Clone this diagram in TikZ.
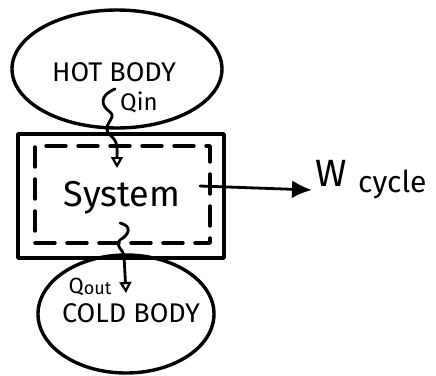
\documentclass[tikz,border=0pt]{standalone}
\usepackage{fontspec}
\setmainfont{Fira Sans}
\usetikzlibrary{shapes.geometric,arrows.meta}
\begin{document}
\begin{tikzpicture}[x=1pt,y=-1pt,
  ink/.style={line width=3.4pt,line cap=round,line join=round},
  bodyshape/.style={ink,draw,ellipse,inner sep=0pt},
  sysbox/.style={ink,draw,rectangle,inner sep=0pt},
  dashbox/.style={ink,draw,rectangle,inner sep=0pt,dash pattern=on 20pt off 12pt},
  heat/.style={ink,line width=2.8pt,-{Triangle[open,length=11pt,width=12pt,line width=2.2pt]}},
  work/.style={ink,line width=2.8pt,-{Latex[length=20pt,width=18pt]}},
  lbl/.style={inner sep=0pt}
]
\useasboundingbox (0,0) rectangle (436,375);
% bodies
\node[bodyshape,minimum width=210pt,minimum height=118pt] (hot) at (117,69) {};
\node[lbl,font=\fontsize{27pt}{27pt}\selectfont] (hottxt) at (114,72) {HOT BODY};
\node[bodyshape,minimum width=176pt,minimum height=118pt] (cold) at (126,314) {};
\node[lbl,font=\fontsize{27pt}{27pt}\selectfont] (coldtxt) at (131,313) {COLD BODY};
% system
\node[sysbox,minimum width=206pt,minimum height=124pt] (sys) at (121,196) {};
\node[dashbox,minimum width=175pt,minimum height=97pt] (sysin) at (122.5,194.5) {};
\node[lbl,font=\fontsize{36pt}{36pt}\selectfont] (systxt) at (122,198) {System};
% heat in
\coordinate (qinA) at (115,89);
\coordinate (qinB) at (117,168);
\node[lbl,font=\fontsize{24pt}{24pt}\selectfont,anchor=west] (qin) at (120,102) {Qin};
\draw[heat] (qinA) .. controls (100,95) and (100,105) .. (110,112)
  .. controls (118,118) and (100,125) .. (110,135)
  .. controls (119,142) and (117,150) .. (qinB);
% heat out
\coordinate (qoutA) at (120,223);
\coordinate (qoutB) at (126,293);
\node[lbl,font=\fontsize{22pt}{22pt}\selectfont] (qout) at (90,287) {Q\raisebox{-1pt}{\fontsize{18pt}{18pt}\selectfont out}};
\draw[heat] (qoutA) .. controls (132,226) and (130,234) .. (120,240)
  .. controls (114,246) and (124,250) .. (124,256)
  -- (qoutB);
% work
\coordinate (wA) at (200,186);
\coordinate (wB) at (312,190);
\draw[work] (wA) -- (wB);
\node[lbl,font=\fontsize{38pt}{38pt}\selectfont,anchor=base west] (w) at (315,186) {W};
\node[lbl,font=\fontsize{30pt}{30pt}\selectfont,anchor=base west] (cyc) at (358,192) {cycle};
\end{tikzpicture}
\end{document}
